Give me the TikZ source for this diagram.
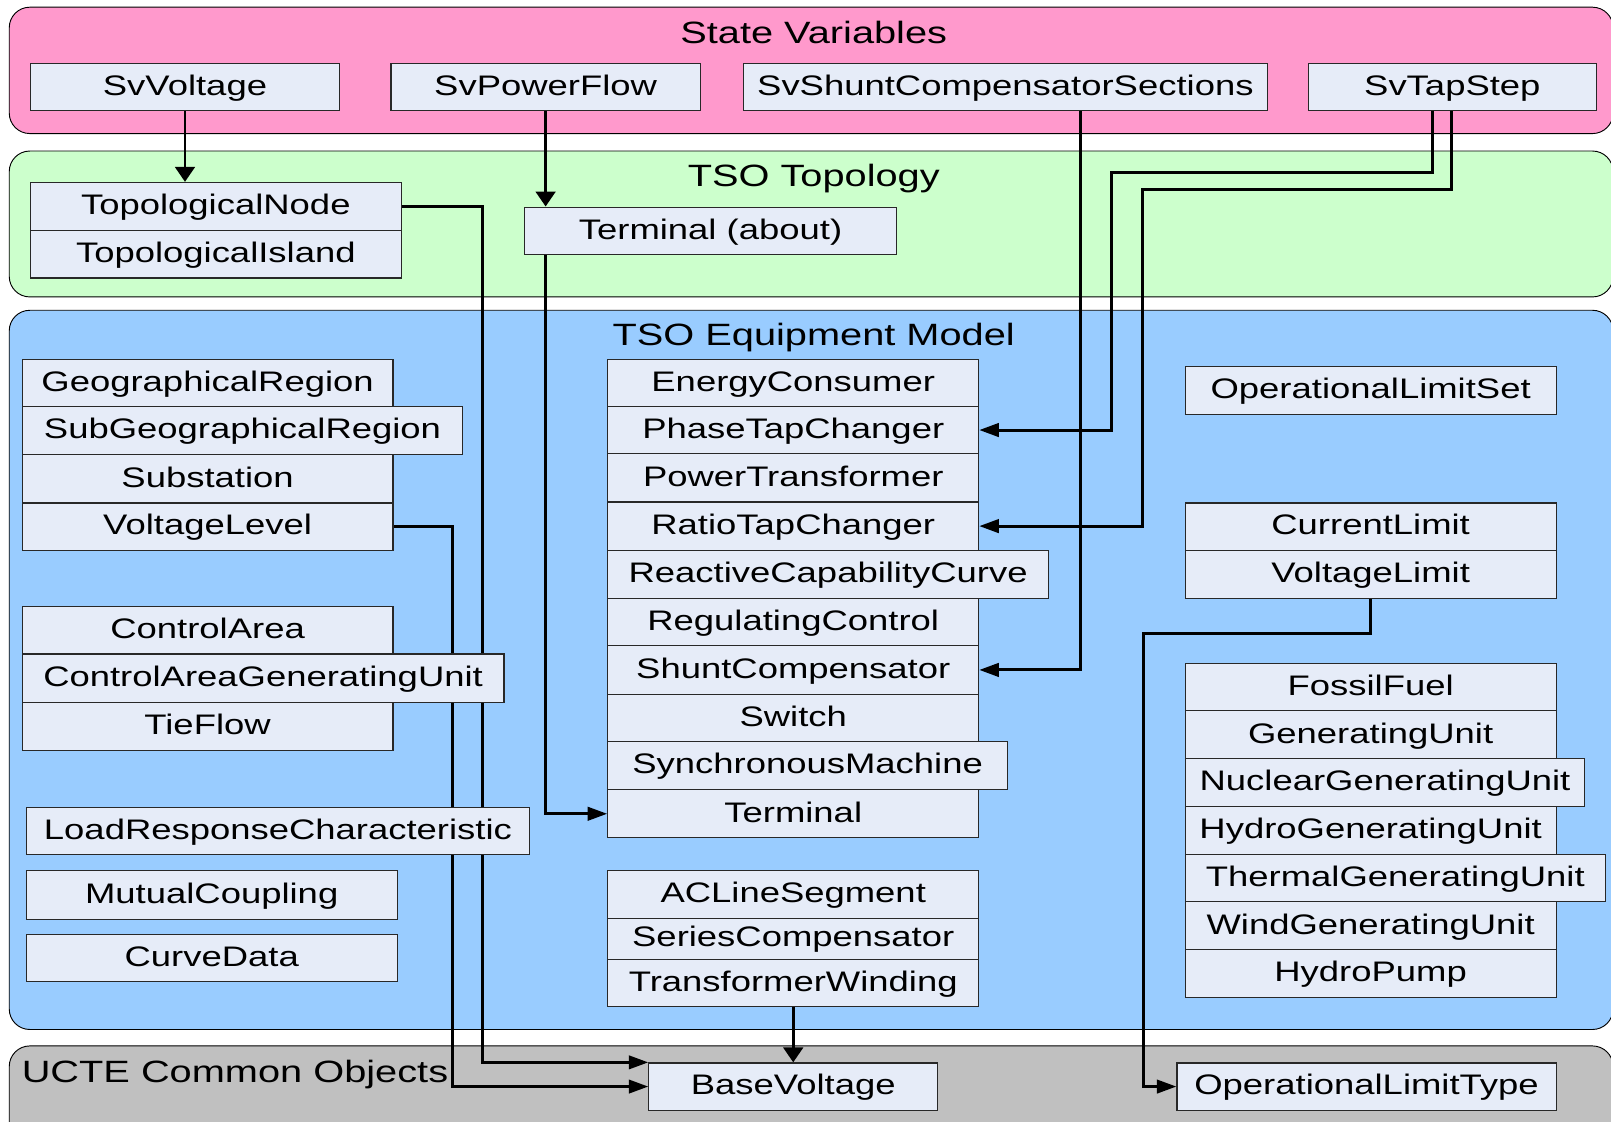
\documentclass[tikz,border=0pt]{standalone}
\usepackage{fontspec}
\setmainfont{Liberation Sans}[FakeStretch=1.29]
\usetikzlibrary{arrows.meta,calc}
\pgfdeclarelayer{bg}
\pgfdeclarelayer{conn}
\pgfsetlayers{bg,conn,main}
\definecolor{pinkbg}{RGB}{255,153,204}
\definecolor{greenbg}{RGB}{204,255,204}
\definecolor{bluebg}{RGB}{153,204,255}
\definecolor{greybg}{RGB}{192,192,192}
\definecolor{boxfill}{RGB}{230,236,248}
\definecolor{boxline}{RGB}{40,40,40}
\newcommand\clsbox[6]{\node[cls,anchor=north west,minimum width={(#4-#2)*1pt},minimum height={(#5-#3)*1pt}] (#1) at (#2,#3) {#6};}
\begin{document}
\begin{tikzpicture}[x=1pt,y=-1pt,
  grp/.style={draw=black, line width=0.9pt, rounded corners=20pt},
  cls/.style={draw=boxline, fill=boxfill, line width=1.1pt, inner sep=0pt, text height=21pt, text depth=4.7pt, font=\fontsize{27.5}{33}\selectfont, text=black},
  gtitle/.style={font=\fontsize{30}{36}\selectfont, inner sep=0pt, text height=24pt, text depth=2.5pt},
  hconn/.style={line width=2.9pt, -{Triangle[length=19pt,width=13pt]}},
  vconn/.style={line width=2.9pt, -{Triangle[length=14.5pt,width=19pt]}},
]
\useasboundingbox (0,0) rectangle (1568,1092);
\begin{pgfonlayer}{bg}
\draw[grp, fill=pinkbg] (9,7) rectangle (1570,130);
\draw[grp, fill=greenbg] (9,147) rectangle (1570,289);
\draw[grp, fill=bluebg] (9,302) rectangle (1570,1002);
\draw[grp, fill=greybg] (9,1018) rectangle (1570,1125);
\end{pgfonlayer}
% group titles
\node[gtitle] (tSV) at (792,32) {State Variables};
\node[gtitle] (tTT) at (792,171) {TSO Topology};
\node[gtitle] (tEM) at (792,326) {TSO Equipment Model};
\node[gtitle,anchor=west] (tUC) at (21,1043) {UCTE Common Objects};
% state variables
\clsbox{SvVoltage}{29}{61}{330}{107}{SvVoltage}
\clsbox{SvPowerFlow}{380}{61}{681}{107}{SvPowerFlow}
\clsbox{SvShunt}{723}{61}{1233}{107}{SvShuntCompensatorSections}
\clsbox{SvTapStep}{1273}{61}{1553}{107}{SvTapStep}
% topology
\clsbox{TopoNode}{29}{177}{390}{224}{TopologicalNode}
\clsbox{TopoIsland}{29}{224}{390}{270}{TopologicalIsland}
\clsbox{TermAbout}{510}{201}{872}{247}{Terminal (about)}
% equipment left
\clsbox{GeoReg}{21}{349}{382}{395}{GeographicalRegion}
\clsbox{SubGeo}{21}{395}{450}{442}{SubGeographicalRegion}
\clsbox{Substation}{21}{442}{382}{489}{Substation}
\clsbox{VoltLevel}{21}{489}{382}{535}{VoltageLevel}
\clsbox{CtrlArea}{21}{590}{382}{636}{ControlArea}
\clsbox{CAGU}{21}{636}{490}{683}{ControlAreaGeneratingUnit}
\clsbox{TieFlow}{21}{683}{382}{730}{TieFlow}
\clsbox{LoadResp}{25}{785}{515}{831}{LoadResponseCharacteristic}
\clsbox{Mutual}{25}{847}{386}{894}{MutualCoupling}
\clsbox{Curve}{25}{909}{386}{955}{CurveData}
% equipment middle
\clsbox{Energy}{591}{349}{952}{395}{EnergyConsumer}
\clsbox{PhaseTap}{591}{395}{952}{441}{PhaseTapChanger}
\clsbox{PowerTr}{591}{441}{952}{488}{PowerTransformer}
\clsbox{RatioTap}{591}{488}{952}{535}{RatioTapChanger}
\clsbox{ReactCap}{591}{535}{1020}{582}{ReactiveCapabilityCurve}
\clsbox{RegCtrl}{591}{582}{952}{628}{RegulatingControl}
\clsbox{ShuntComp}{591}{628}{952}{675}{ShuntCompensator}
\clsbox{Switch}{591}{675}{952}{721}{Switch}
\clsbox{SyncMach}{591}{721}{980}{768}{SynchronousMachine}
\clsbox{Terminal}{591}{768}{952}{815}{Terminal}
\clsbox{ACLine}{591}{847}{952}{893}{ACLineSegment}
\clsbox{SeriesComp}{591}{893}{952}{933}{SeriesCompensator}
\clsbox{TrWinding}{591}{933}{952}{979}{TransformerWinding}
% equipment right
\clsbox{OpLimSet}{1153}{356}{1514}{403}{OperationalLimitSet}
\clsbox{CurLimit}{1153}{489}{1514}{535}{CurrentLimit}
\clsbox{VoltLimit}{1153}{535}{1514}{582}{VoltageLimit}
\clsbox{Fossil}{1153}{645}{1514}{691}{FossilFuel}
\clsbox{GenUnit}{1153}{691}{1514}{738}{GeneratingUnit}
\clsbox{Nuclear}{1153}{738}{1542}{784}{NuclearGeneratingUnit}
\clsbox{Hydro}{1153}{784}{1514}{831}{HydroGeneratingUnit}
\clsbox{Thermal}{1153}{831}{1562}{877}{ThermalGeneratingUnit}
\clsbox{Wind}{1153}{877}{1514}{924}{WindGeneratingUnit}
\clsbox{HydroPump}{1153}{924}{1514}{970}{HydroPump}
% common objects
\clsbox{BaseVoltage}{631}{1034}{912}{1080}{BaseVoltage}
\clsbox{OpLimType}{1145}{1034}{1514}{1080}{OperationalLimitType}
% helper coordinates
\coordinate (xSh) at (1052,0);
\coordinate (xT1) at (1394,0);
\coordinate (xT2) at (1413,0);
\coordinate (yT1) at (0,168);
\coordinate (yT2) at (0,184);
\coordinate (xJ1) at (1082,0);
\coordinate (xJ2) at (1112,0);
\coordinate (xTN) at (470,0);
\coordinate (xVL) at (440,0);
\coordinate (yVL) at (0,617);
\coordinate (xOL) at (1113,0);
\begin{pgfonlayer}{conn}
\draw[vconn] (SvVoltage.south) -- (SvVoltage.south |- TopoNode.north);
\draw[vconn] (SvPowerFlow.south) -- (SvPowerFlow.south |- TermAbout.north);
\draw[hconn] (xSh |- SvShunt.south) |- (ShuntComp.east);
\draw[hconn] (xT1 |- SvTapStep.south) -- (xT1 |- yT1) -| (xJ1 |- PhaseTap.east) -- (PhaseTap.east);
\draw[hconn] (xT2 |- SvTapStep.south) -- (xT2 |- yT2) -| (xJ2 |- RatioTap.east) -- (RatioTap.east);
\draw[hconn] (TopoNode.east) -| (xTN |- BaseVoltage.north west) -- (BaseVoltage.north west);
\draw[hconn] (VoltLevel.east) -| (xVL |- BaseVoltage.west) -- (BaseVoltage.west);
\draw[hconn] (SvPowerFlow.south |- TermAbout.south) |- (Terminal.west);
\draw[vconn] (TrWinding.south) -- (TrWinding.south |- BaseVoltage.north);
\draw[hconn] (VoltLimit.south) -- (VoltLimit.south |- yVL) -| (xOL |- OpLimType.west) -- (OpLimType.west);
\end{pgfonlayer}
\end{tikzpicture}
\end{document}
